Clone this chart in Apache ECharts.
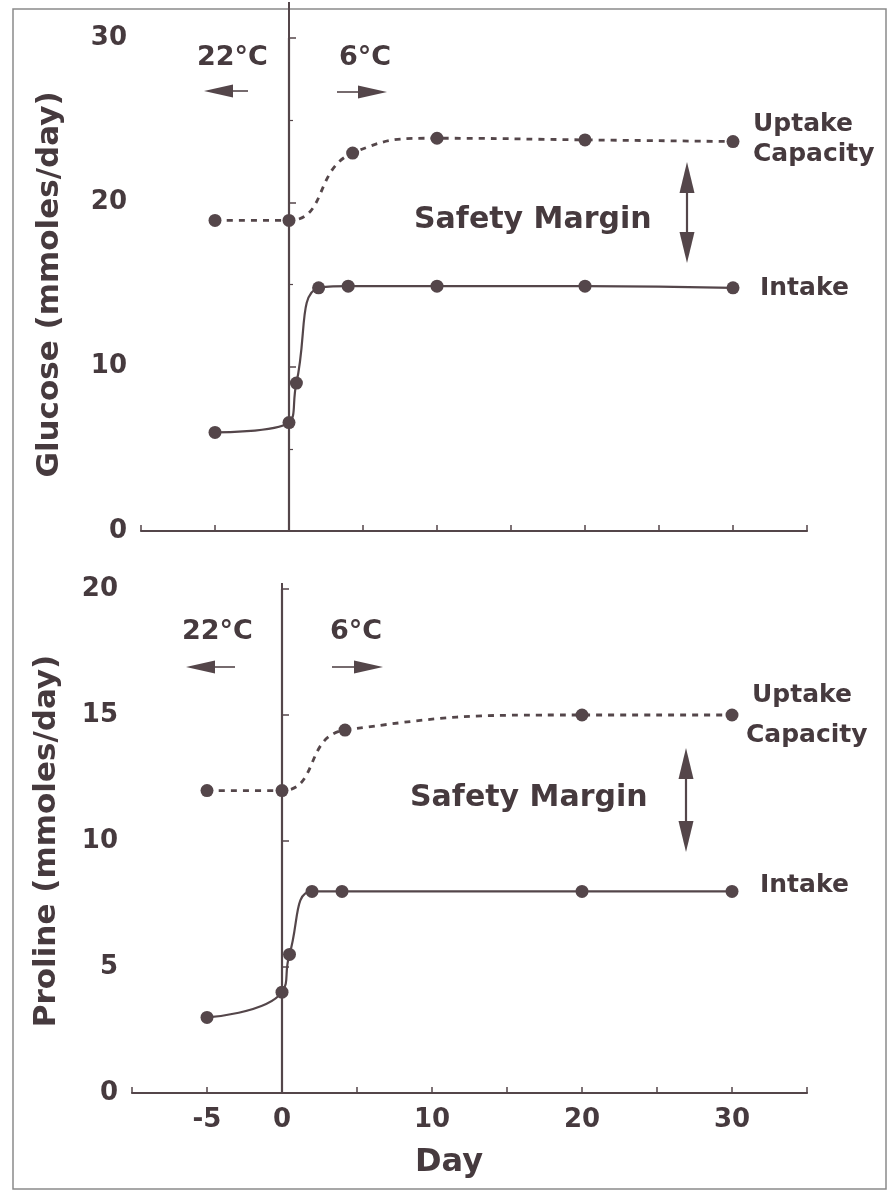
<!DOCTYPE html>
<html>
<head>
<meta charset="utf-8">
<script src="https://cdn.jsdelivr.net/npm/echarts@6/dist/echarts.min.js"></script>
<style>
html, body { margin: 0; padding: 0; background: #fff; }
#chart { width: 891px; height: 1192px; }
</style>
</head>
<body>
<div id="chart"></div>
<script>
// glucose panel (top)
var glucoseUptakeDays = [-5, 0, 4.3, 10, 20, 30];
var glucoseUptake = [18.9, 18.9, 23, 23.9, 23.8, 23.7];
var glucoseIntakeDays = [-5, 0, 0.5, 2, 4, 10, 20, 30];
var glucoseIntake = [6, 6.6, 9, 14.8, 14.9, 14.9, 14.9, 14.8];
// proline panel (bottom)
var prolineUptakeDays = [-5, 0, 4.2, 20, 30];
var prolineUptake = [12, 12, 14.4, 15, 15];
var prolineIntakeDays = [-5, 0, 0.5, 2, 4, 20, 30];
var prolineIntake = [3, 4, 5.5, 8, 8, 8, 8];
var dayTickLabels = [-5, 0, 10, 20, 30];

var ink = '#54464a';
var txt = '#463a3e';
var FONT = '"DejaVu Sans", sans-serif';

function zip(xs, ys) {
  return xs.map(function (x, i) { return [x, ys[i]]; });
}

function curve(days, vals, idx, dashed) {
  return {
    type: 'line',
    xAxisIndex: idx,
    yAxisIndex: idx,
    data: zip(days, vals),
    smooth: 0.5,
    symbol: 'circle',
    symbolSize: 13,
    showSymbol: true,
    clip: false,
    lineStyle: { color: ink, width: dashed ? 2.8 : 2.2, type: dashed ? [6, 6] : 'solid' },
    itemStyle: { color: ink },
    z: 3
  };
}

function xAxisCfg(idx, labels) {
  return {
    gridIndex: idx,
    type: 'value',
    min: -10,
    max: 35,
    interval: 5,
    axisLine: { onZero: false, lineStyle: { color: ink, width: 2.2 } },
    axisTick: { inside: true, length: 6, lineStyle: { color: ink, width: 1.5 } },
    axisLabel: {
      show: labels,
      margin: 14,
      color: txt,
      fontSize: 26,
      fontWeight: 'bold',
      fontFamily: FONT,
      formatter: function (v) { return dayTickLabels.indexOf(v) >= 0 ? String(v) : ''; }
    },
    splitLine: { show: false }
  };
}

function yAxisCfg(idx, max, interval, name, gap) {
  return {
    gridIndex: idx,
    type: 'value',
    min: 0,
    max: max,
    interval: interval,
    name: name,
    nameLocation: 'middle',
    nameGap: gap,
    nameTextStyle: { color: txt, fontSize: 31, fontWeight: 'bold', fontFamily: FONT },
    axisLine: { show: true, lineStyle: { color: ink, width: 2.2 } },
    axisTick: { show: true, inside: true, length: 7, lineStyle: { color: ink, width: 1.5 } },
    minorTick: { show: idx === 0, splitNumber: 2, length: 4, lineStyle: { color: ink, width: 1.2 } },
    axisLabel: { margin: 14, color: txt, fontSize: 26, fontWeight: 'bold', fontFamily: FONT },
    splitLine: { show: false }
  };
}

var chart = echarts.init(document.getElementById('chart'));
chart.setOption({
  animation: false,
  backgroundColor: '#fff',
  grid: [
    { left: 141, top: 38, width: 666, height: 493, outerBoundsMode: 'none' },
    { left: 132, top: 589, width: 675, height: 504, outerBoundsMode: 'none' }
  ],
  xAxis: [xAxisCfg(0, false), xAxisCfg(1, true)],
  yAxis: [
    yAxisCfg(0, 30, 10, 'Glucose (mmoles/day)', 76),
    yAxisCfg(1, 20, 5, 'Proline (mmoles/day)', 70)
  ],
  series: [
    curve(glucoseUptakeDays, glucoseUptake, 0, true),
    curve(glucoseIntakeDays, glucoseIntake, 0, false),
    curve(prolineUptakeDays, prolineUptake, 1, true),
    curve(prolineIntakeDays, prolineIntake, 1, false)
  ]
});

// day 0 divider, computed from the axes
var x0Top = chart.convertToPixel({ xAxisIndex: 0 }, 0);
var x0Bot = chart.convertToPixel({ xAxisIndex: 1 }, 0);
var yTopBase = chart.convertToPixel({ yAxisIndex: 0 }, 0);
var yBotBase = chart.convertToPixel({ yAxisIndex: 1 }, 0);

function label(text, x, y, size, align) {
  return {
    type: 'text', x: x, y: y, z: 10,
    style: {
      text: text, fill: txt,
      font: 'bold ' + size + 'px ' + FONT,
      align: align || 'left', verticalAlign: 'middle',
      textAlign: align || 'left', textVerticalAlign: 'middle'
    }
  };
}
function seg(x1, y1, x2, y2, w) {
  return { type: 'line', z: 10, shape: { x1: x1, y1: y1, x2: x2, y2: y2 }, style: { stroke: ink, lineWidth: w || 1.5 } };
}
function head(points) {
  return { type: 'polygon', z: 10, shape: { points: points }, style: { fill: ink } };
}
// horizontal arrow from tail to tip
function hArrow(xTail, xTip, y) {
  var d = xTip > xTail ? 1 : -1;
  var base = xTip - d * 29;
  return [seg(xTail, y, base, y, 1.6), head([[xTip, y], [base, y - 6.5], [base, y + 6.5]])];
}
function vDouble(x, yTop, yBot) {
  return [
    seg(x, yTop + 28, x, yBot - 28, 2.2),
    head([[x, yTop], [x - 7.5, yTop + 31], [x + 7.5, yTop + 31]]),
    head([[x, yBot], [x - 7.5, yBot - 31], [x + 7.5, yBot - 31]])
  ];
}

var g = [
  { type: 'rect', z: 0, shape: { x: 13, y: 9, width: 873, height: 1180 }, style: { fill: 'none', stroke: '#8a8a8a', lineWidth: 1.5 } },
  seg(x0Top, 2, x0Top, yTopBase, 2),
  seg(x0Bot, 583, x0Bot, yBotBase, 2),
  label('22°C', 197, 58, 27),
  label('6°C', 339, 58, 27),
  label('22°C', 182, 632, 27),
  label('6°C', 330, 632, 27),
  label('Safety Margin', 414, 220, 30),
  label('Safety Margin', 410, 798, 30),
  label('Uptake', 753, 124, 25),
  label('Capacity', 753, 154, 25),
  label('Intake', 760, 288, 25),
  label('Uptake', 752, 695, 25),
  label('Capacity', 746, 735, 25),
  label('Intake', 760, 885, 25),
  label('Day', 449, 1163, 32, 'center')
];
g = g.concat(hArrow(248, 204, 91), hArrow(337, 387, 92), hArrow(235, 186, 667), hArrow(332, 383, 667));
g = g.concat(vDouble(687, 162, 263), vDouble(686, 748, 852));

chart.setOption({ graphic: g });
</script>
</body>
</html>
